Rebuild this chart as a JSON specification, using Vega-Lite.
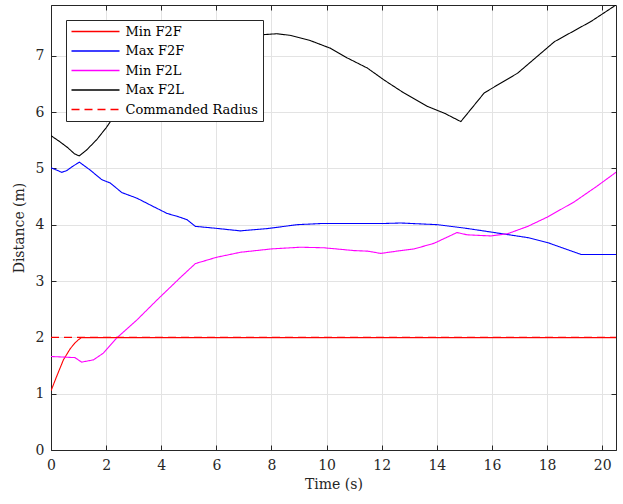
{
  "$schema": "https://vega.github.io/schema/vega-lite/v6.json",
  "width": 565,
  "height": 445,
  "autosize": "none",
  "padding": {"left": 51, "top": 5, "right": 7, "bottom": 54},
  "background": "white",
  "config": {
    "font": "DejaVu Serif, serif",
    "view": {"stroke": null},
    "axis": {
      "labelFont": "DejaVu Serif, serif",
      "titleFont": "DejaVu Serif, serif",
      "labelFontSize": 14,
      "titleFontSize": 14,
      "titleFontWeight": "normal",
      "labelColor": "#262626",
      "titleColor": "#262626",
      "domainColor": "#262626",
      "tickColor": "#262626",
      "gridColor": "#e3e3e3",
      "gridOpacity": 1,
      "tickSize": -5
    }
  },
  "data": {"values": [
    {"t": 0, "v": 1.05, "s": "Min F2F"},
    {"t": 0.2, "v": 1.3, "s": "Min F2F"},
    {"t": 0.45, "v": 1.6, "s": "Min F2F"},
    {"t": 0.7, "v": 1.8, "s": "Min F2F"},
    {"t": 0.87, "v": 1.9, "s": "Min F2F"},
    {"t": 1.0, "v": 1.96, "s": "Min F2F"},
    {"t": 1.11, "v": 1.995, "s": "Min F2F"},
    {"t": 5, "v": 1.995, "s": "Min F2F"},
    {"t": 10, "v": 1.995, "s": "Min F2F"},
    {"t": 15, "v": 1.995, "s": "Min F2F"},
    {"t": 20.5, "v": 1.995, "s": "Min F2F"},

    {"t": 0, "v": 5.01, "s": "Max F2F"},
    {"t": 0.2, "v": 4.97, "s": "Max F2F"},
    {"t": 0.39, "v": 4.93, "s": "Max F2F"},
    {"t": 0.57, "v": 4.96, "s": "Max F2F"},
    {"t": 0.8, "v": 5.04, "s": "Max F2F"},
    {"t": 1.03, "v": 5.11, "s": "Max F2F"},
    {"t": 1.42, "v": 4.97, "s": "Max F2F"},
    {"t": 1.84, "v": 4.8, "s": "Max F2F"},
    {"t": 2.15, "v": 4.74, "s": "Max F2F"},
    {"t": 2.57, "v": 4.57, "s": "Max F2F"},
    {"t": 3.12, "v": 4.47, "s": "Max F2F"},
    {"t": 3.6, "v": 4.35, "s": "Max F2F"},
    {"t": 4.21, "v": 4.2, "s": "Max F2F"},
    {"t": 4.63, "v": 4.14, "s": "Max F2F"},
    {"t": 4.93, "v": 4.09, "s": "Max F2F"},
    {"t": 5.24, "v": 3.97, "s": "Max F2F"},
    {"t": 5.9, "v": 3.94, "s": "Max F2F"},
    {"t": 6.87, "v": 3.89, "s": "Max F2F"},
    {"t": 7.84, "v": 3.93, "s": "Max F2F"},
    {"t": 8.93, "v": 4.0, "s": "Max F2F"},
    {"t": 9.78, "v": 4.02, "s": "Max F2F"},
    {"t": 11, "v": 4.02, "s": "Max F2F"},
    {"t": 12, "v": 4.02, "s": "Max F2F"},
    {"t": 12.69, "v": 4.03, "s": "Max F2F"},
    {"t": 14.02, "v": 4.0, "s": "Max F2F"},
    {"t": 15, "v": 3.94, "s": "Max F2F"},
    {"t": 15.96, "v": 3.87, "s": "Max F2F"},
    {"t": 17.3, "v": 3.77, "s": "Max F2F"},
    {"t": 18.03, "v": 3.68, "s": "Max F2F"},
    {"t": 19.24, "v": 3.47, "s": "Max F2F"},
    {"t": 20.5, "v": 3.47, "s": "Max F2F"},

    {"t": 0, "v": 1.66, "s": "Min F2L"},
    {"t": 0.87, "v": 1.64, "s": "Min F2L"},
    {"t": 1.11, "v": 1.56, "s": "Min F2L"},
    {"t": 1.54, "v": 1.6, "s": "Min F2L"},
    {"t": 1.9, "v": 1.72, "s": "Min F2L"},
    {"t": 2.39, "v": 1.99, "s": "Min F2L"},
    {"t": 3.12, "v": 2.31, "s": "Min F2L"},
    {"t": 3.84, "v": 2.66, "s": "Min F2L"},
    {"t": 4.69, "v": 3.06, "s": "Min F2L"},
    {"t": 5.24, "v": 3.31, "s": "Min F2L"},
    {"t": 6.0, "v": 3.42, "s": "Min F2L"},
    {"t": 6.87, "v": 3.51, "s": "Min F2L"},
    {"t": 8.0, "v": 3.57, "s": "Min F2L"},
    {"t": 9.05, "v": 3.6, "s": "Min F2L"},
    {"t": 9.9, "v": 3.59, "s": "Min F2L"},
    {"t": 11, "v": 3.54, "s": "Min F2L"},
    {"t": 11.5, "v": 3.53, "s": "Min F2L"},
    {"t": 11.96, "v": 3.49, "s": "Min F2L"},
    {"t": 12.69, "v": 3.54, "s": "Min F2L"},
    {"t": 13.18, "v": 3.57, "s": "Min F2L"},
    {"t": 13.9, "v": 3.67, "s": "Min F2L"},
    {"t": 14.73, "v": 3.86, "s": "Min F2L"},
    {"t": 15.1, "v": 3.82, "s": "Min F2L"},
    {"t": 15.96, "v": 3.8, "s": "Min F2L"},
    {"t": 16.57, "v": 3.84, "s": "Min F2L"},
    {"t": 17.3, "v": 3.97, "s": "Min F2L"},
    {"t": 18.03, "v": 4.14, "s": "Min F2L"},
    {"t": 19.0, "v": 4.41, "s": "Min F2L"},
    {"t": 19.8, "v": 4.68, "s": "Min F2L"},
    {"t": 20.5, "v": 4.93, "s": "Min F2L"},

    {"t": 0, "v": 5.58, "s": "Max F2L"},
    {"t": 0.3, "v": 5.48, "s": "Max F2L"},
    {"t": 0.6, "v": 5.37, "s": "Max F2L"},
    {"t": 0.85, "v": 5.26, "s": "Max F2L"},
    {"t": 1.02, "v": 5.22, "s": "Max F2L"},
    {"t": 1.3, "v": 5.33, "s": "Max F2L"},
    {"t": 1.66, "v": 5.51, "s": "Max F2L"},
    {"t": 2.0, "v": 5.72, "s": "Max F2L"},
    {"t": 2.33, "v": 5.95, "s": "Max F2L"},
    {"t": 3.0, "v": 6.2, "s": "Max F2L"},
    {"t": 4.0, "v": 6.6, "s": "Max F2L"},
    {"t": 5.0, "v": 6.95, "s": "Max F2L"},
    {"t": 6.0, "v": 7.18, "s": "Max F2L"},
    {"t": 7.0, "v": 7.32, "s": "Max F2L"},
    {"t": 7.6, "v": 7.37, "s": "Max F2L"},
    {"t": 8.2, "v": 7.39, "s": "Max F2L"},
    {"t": 8.7, "v": 7.36, "s": "Max F2L"},
    {"t": 9.4, "v": 7.27, "s": "Max F2L"},
    {"t": 10.15, "v": 7.13, "s": "Max F2L"},
    {"t": 10.75, "v": 6.96, "s": "Max F2L"},
    {"t": 11.48, "v": 6.78, "s": "Max F2L"},
    {"t": 12.08, "v": 6.57, "s": "Max F2L"},
    {"t": 12.8, "v": 6.34, "s": "Max F2L"},
    {"t": 13.66, "v": 6.1, "s": "Max F2L"},
    {"t": 14.27, "v": 5.98, "s": "Max F2L"},
    {"t": 14.87, "v": 5.83, "s": "Max F2L"},
    {"t": 15.72, "v": 6.34, "s": "Max F2L"},
    {"t": 16.93, "v": 6.69, "s": "Max F2L"},
    {"t": 18.27, "v": 7.25, "s": "Max F2L"},
    {"t": 19.6, "v": 7.61, "s": "Max F2L"},
    {"t": 20.5, "v": 7.9, "s": "Max F2L"},

    {"t": 0, "v": 2.0, "s": "Commanded Radius"},
    {"t": 20.5, "v": 2.0, "s": "Commanded Radius"}
  ]},
  "layer": [
    {
      "mark": {"type": "line", "strokeWidth": 1.1, "clip": true},
      "encoding": {
        "x": {"field": "t", "type": "quantitative",
              "scale": {"domain": [0, 20.5], "nice": false, "zero": false},
              "axis": {"title": "Time (s)", "values": [0,2,4,6,8,10,12,14,16,18,20], "labelPadding": 13, "titlePadding": 5, "labelFlush": false}},
        "y": {"field": "v", "type": "quantitative",
              "scale": {"domain": [0, 7.9], "nice": false},
              "axis": {"title": "Distance (m)", "values": [0,1,2,3,4,5,6,7], "labelPadding": 12, "titlePadding": 9, "labelFlush": false}},
        "color": {"field": "s", "type": "nominal",
                  "scale": {"domain": ["Min F2F", "Max F2F", "Min F2L", "Max F2L", "Commanded Radius"],
                            "range": ["#ff0000", "#0000ff", "#ff00ff", "#000000", "#ff0000"]},
                  "legend": {"title": null, "orient": "none", "legendX": 15, "legendY": 15,
                             "strokeColor": "#262626", "fillColor": "white", "padding": 4.5,
                             "labelFont": "DejaVu Serif, serif", "labelFontSize": 13, "labelColor": "#000000",
                             "symbolType": "M-1,0H7", "symbolSize": 144, "symbolStrokeWidth": 1.3,
                             "rowPadding": 5.5, "labelOffset": 41, "labelLimit": 300,
                             "encode": {"symbols": {"update": {
                               "stroke": {"signal": "datum.value === 'Min F2F' || datum.value === 'Commanded Radius' ? '#ff0000' : datum.value === 'Max F2F' ? '#0000ff' : datum.value === 'Min F2L' ? '#ff00ff' : '#000000'"},
                               "strokeDash": {"signal": "datum.value === 'Commanded Radius' ? [8, 5] : [1, 0]"}}}}}},
        "strokeDash": {"field": "s", "type": "nominal",
                  "scale": {"domain": ["Min F2F", "Max F2F", "Min F2L", "Max F2L", "Commanded Radius"],
                            "range": [[1, 0], [1, 0], [1, 0], [1, 0], [8, 5]]},
                  "legend": null},
        "order": {"field": "t", "type": "quantitative"}
      }
    },
    {
      "mark": {"type": "line", "opacity": 0},
      "encoding": {
        "x": {"field": "t", "type": "quantitative",
              "axis": {"orient": "top", "labels": false, "title": null, "grid": false, "values": [0,2,4,6,8,10,12,14,16,18,20]}},
        "y": {"field": "v", "type": "quantitative",
              "axis": {"orient": "right", "labels": false, "title": null, "grid": false, "values": [0,1,2,3,4,5,6,7]}}
      }
    }
  ],
  "resolve": {"axis": {"x": "independent", "y": "independent"}}
}
